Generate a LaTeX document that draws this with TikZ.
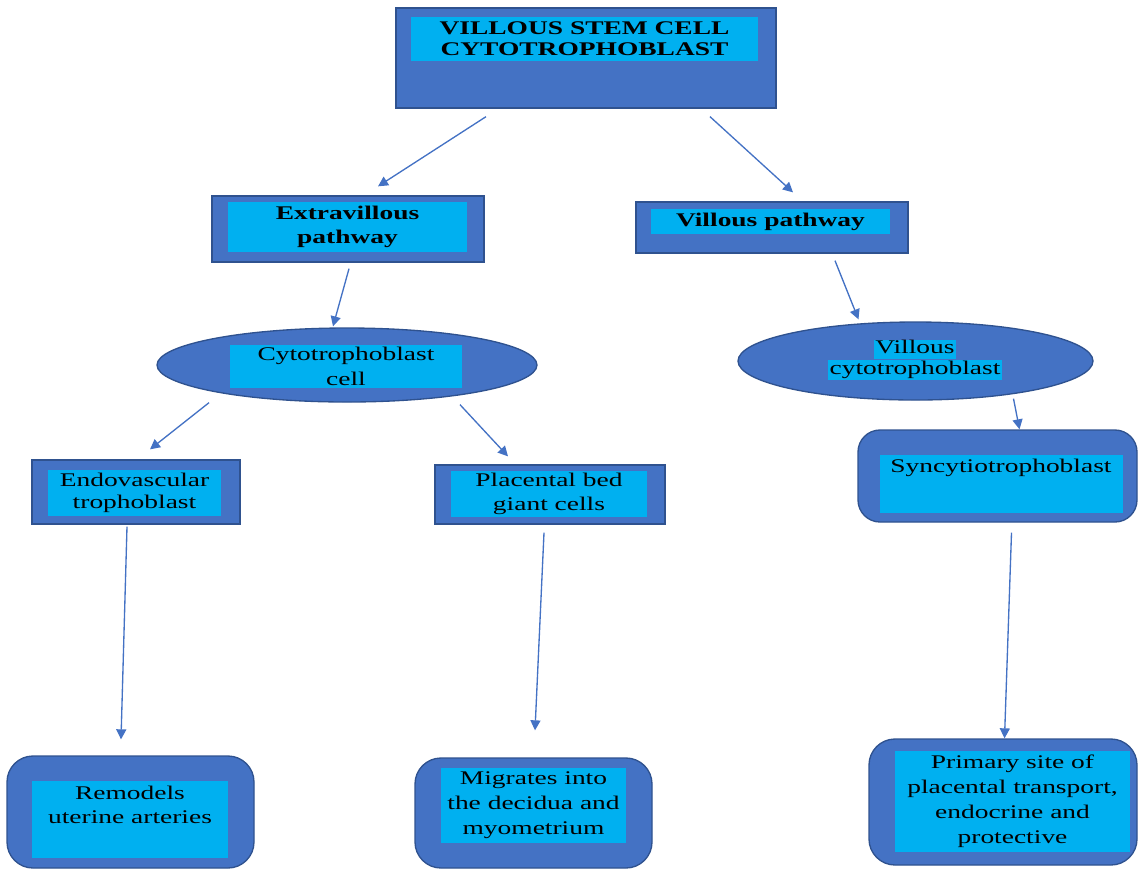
\documentclass[tikz,border=0pt]{standalone}
\usepackage{fontspec}
\setmainfont{Liberation Serif}[FakeStretch=1.42]
\usetikzlibrary{shapes.geometric,arrows.meta,fit}
\definecolor{blueA}{HTML}{4472C4}
\definecolor{bordA}{HTML}{2F528F}
\definecolor{cyanA}{HTML}{00B0F0}
\tikzset{
  outerbox/.style={draw=bordA, fill=blueA, line width=1pt, inner sep=0pt},
  innerbox/.style 2 args={fill=cyanA, inner sep=0pt, align=center, font=\fontsize{14.5}{18.3}\selectfont,
     minimum width=#1*0.75pt, minimum height=#2*0.75pt},
  ellbox/.style={ellipse, draw=bordA, fill=blueA, line width=1pt, inner sep=0pt},
  hl/.style={fill=cyanA, inner xsep=1pt, inner ysep=0.5pt, text height=10pt, text depth=3.5pt, font=\fontsize{14.5}{18}\selectfont},
  lbl/.style={align=center, inner sep=0pt, font=\fontsize{14.5}{18}\selectfont},
  boldtext/.style={font=\fontsize{14.5}{18}\selectfont\bfseries},
  arr/.style={draw=blueA, line width=1pt, -{Triangle[length=7.5pt,width=7.5pt]}}
}
\begin{document}
\begin{tikzpicture}[x=0.75pt,y=-0.75pt]
\useasboundingbox (0,0) rectangle (1138,869);

% top
\node[outerbox, fit={(396,8)(776,108)}] (top) {};
\node[innerbox={347}{44}, boldtext, font=\fontsize{14.5}{16}\selectfont\bfseries] (topin) at (584.5,39) {VILLOUS STEM CELL\\CYTOTROPHOBLAST};

% level 2
\node[outerbox, fit={(212,196)(484,262)}] (ext) {};
\node[innerbox={239}{50}, boldtext] (extin) at (347.5,227) {Extravillous\\pathway};
\node[outerbox, fit={(636,202)(908,253)}] (vp) {};
\node[innerbox={239}{25}, boldtext] (vpin) at (770.5,221.5) {Villous pathway};

% level 3
\node[ellbox, minimum width=380*0.75pt, minimum height=74*0.75pt] (cyto) at (347,365) {};
\node[innerbox={232}{43}] (cytoin) at (346,366.5) {Cytotrophoblast\\cell};
\node[ellbox, minimum width=355*0.75pt, minimum height=78*0.75pt] (vc) at (915.5,361) {};
\node[hl] (vc1) at (915,349.5) {Villous};
\node[hl] (vc2) at (915,370) {cytotrophoblast};

% level 4
\node[outerbox, fit={(32,460)(240,524)}] (endo) {};
\node[innerbox={173}{46}, font=\fontsize{14.5}{17}\selectfont] (endoin) at (134.5,493) {Endovascular\\trophoblast};
\node[outerbox, fit={(435,465)(665,524)}] (plac) {};
\node[innerbox={196}{46}, font=\fontsize{14.5}{17.5}\selectfont] (placin) at (549,494) {Placental bed\\giant cells};
\node[outerbox, rounded corners=22*0.75pt, fit={(858,430)(1137,522)}] (syn) {};
\node[innerbox={243}{58}] (synin) at (1001.5,484) {};
\node[lbl] (syntxt) at (1001,468) {Syncytiotrophoblast};

% level 5
\node[outerbox, rounded corners=26*0.75pt, fit={(7,756)(254,868)}] (rem) {};
\node[innerbox={196}{77}] (remin) at (130,819.5) {};
\node[lbl] (remtxt) at (130,805) {Remodels\\uterine arteries};
\node[outerbox, rounded corners=26*0.75pt, fit={(415,758)(652,868)}] (mig) {};
\node[innerbox={185}{75}, font=\fontsize{14.5}{18.75}\selectfont] (migin) at (533.5,805.5) {Migrates into\\the decidua and\\myometrium};
\node[outerbox, rounded corners=26*0.75pt, fit={(869,739)(1137,865)}] (prim) {};
\node[innerbox={235}{101}, font=\fontsize{14.5}{18.75}\selectfont] (primin) at (1012.5,801.5) {Primary site of\\placental transport,\\endocrine and\\protective};

% arrows
\draw[arr] ([shift={(-100,8)}]top.south) -- ([shift={(30,-9)}]ext.north);
\draw[arr] ([shift={(124,8)}]top.south) -- ([shift={(21,-9)}]vp.north);
\draw[arr] ([shift={(1,6)}]ext.south) -- ([shift={(-14,-1)}]cyto.north);
\draw[arr] ([shift={(63,7)}]vp.south) -- ([shift={(-57,-2)}]vc.north);
\draw[arr] ([shift={(-138,0)}]cyto.south) -- ([shift={(14,-10)}]endo.north);
\draw[arr] ([shift={(113,2)}]cyto.south) -- ([shift={(-42,-8)}]plac.north);
\draw[arr] ([shift={(98,-2)}]vc.south) -- ([shift={(22,0)}]syn.north);
\draw[arr] ([shift={(-9,2)}]endo.south) -- ([shift={(-9.5,-16)}]rem.north);
\draw[arr] ([shift={(-6,8)}]plac.south) -- ([shift={(1.5,-27)}]mig.north);
\draw[arr] ([shift={(14,10)}]syn.south) -- ([shift={(1.5,0)}]prim.north);
\end{tikzpicture}
\end{document}
